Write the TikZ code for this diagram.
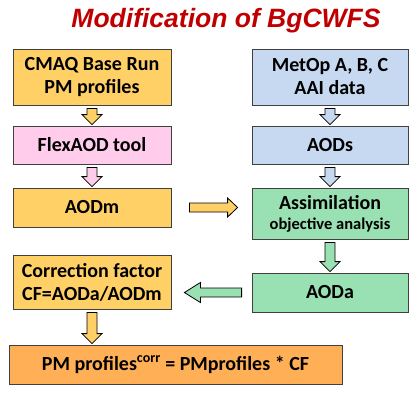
\documentclass[tikz,border=0pt]{standalone}
\usepackage{fontspec}
\setmainfont{Carlito}
\newfontfamily\titlefont{Liberation Sans}
\usetikzlibrary{calc,shadows}
\definecolor{yel}{HTML}{FFD066}
\definecolor{pnk}{HTML}{FFCCEC}
\definecolor{blu}{HTML}{C6D9F1}
\definecolor{grn}{HTML}{99E0B3}
\definecolor{org}{HTML}{FFAF55}
\definecolor{ttl}{HTML}{C00000}
\definecolor{edge}{HTML}{404040}
\tikzset{
  box/.style={draw=edge, line width=0.8pt, inner sep=0pt, align=center,
    font=\fontsize{20}{23}\selectfont\bfseries,
    drop shadow={shadow xshift=1.2pt, shadow yshift=-1.2pt, opacity=0.35}},
  blockarrow/.style={draw=black, line width=0.8pt, line join=miter}
}
\newcommand\varrow[3]{%
  \path let \p1=(#1.south), \p2=(#2.north) in
   [blockarrow, fill=#3] (\x1-5pt,\y1-3pt) -- (\x1+5pt,\y1-3pt) -- (\x1+5pt,\y2+11pt)
   -- (\x1+10pt,\y2+11pt) -- (\x1,\y2+1pt) -- (\x1-10pt,\y2+11pt) -- (\x1-5pt,\y2+11pt) -- cycle;}
\begin{document}
\begin{tikzpicture}[x=1pt,y=-1pt]
\useasboundingbox (0,0) rectangle (419,400);
\node (title) at (226,20.5) {\titlefont\fontsize{26.5}{30}\selectfont\bfseries\itshape\color{ttl}Modification of BgCWFS};
\node[box, fill=yel, minimum width=158pt, minimum height=56pt] (b1) at (92,77) {CMAQ Base Run\\PM profiles};
\node[box, fill=blu, minimum width=156pt, minimum height=56pt] (b2) at (330,77) {MetOp A, B, C\\AAI data};
\node[box, fill=pnk, minimum width=158pt, minimum height=38pt] (b3) at (92,145) {FlexAOD tool};
\node[box, fill=blu, minimum width=156pt, minimum height=38pt] (b4) at (330,145) {AODs};
\node[box, fill=yel, minimum width=158pt, minimum height=39pt] (b5) at (92,207.5) {AODm};
\node[box, fill=grn, minimum width=156pt, minimum height=51pt] (b6) at (330,213.5) {Assimilation\\[-3pt]{\fontsize{16.5}{18}\selectfont objective analysis}};
\node[box, fill=grn, minimum width=156pt, minimum height=39pt] (b7) at (330,292.5) {AODa};
\node[box, fill=yel, minimum width=158pt, minimum height=54pt] (b8) at (92,282) {Correction factor\\CF=AODa/AODm};
\node[box, fill=org, minimum width=333pt, minimum height=39pt] (b9) at (175.5,364.5) {PM profiles\textsuperscript{corr} = PMprofiles * CF};
\varrow{b1}{b3}{yel}
\varrow{b2}{b4}{blu}
\varrow{b3}{b5}{pnk}
\varrow{b4}{b6}{blu}
\varrow{b6}{b7}{grn}
\varrow{b8}{b9}{yel}
\path let \p1=(b5.east), \p2=(b6.west) in
  [blockarrow, fill=yel] (\x1+18pt,\y1+4.5pt) -- (\x2-24pt,\y1+4.5pt) -- (\x2-24pt,\y1+9.5pt)
  -- (\x2-14pt,\y1) -- (\x2-24pt,\y1-9.5pt) -- (\x2-24pt,\y1-4.5pt) -- (\x1+18pt,\y1-4.5pt) -- cycle;
\path let \p1=(b8.east), \p2=(b7.west) in
  [blockarrow, fill=grn] (\x2-10pt,\y2+4.5pt) -- (\x1+29pt,\y2+4.5pt) -- (\x1+29pt,\y2+10pt)
  -- (\x1+13pt,\y2) -- (\x1+29pt,\y2-10pt) -- (\x1+29pt,\y2-4.5pt) -- (\x2-10pt,\y2-4.5pt) -- cycle;
\end{tikzpicture}
\end{document}
